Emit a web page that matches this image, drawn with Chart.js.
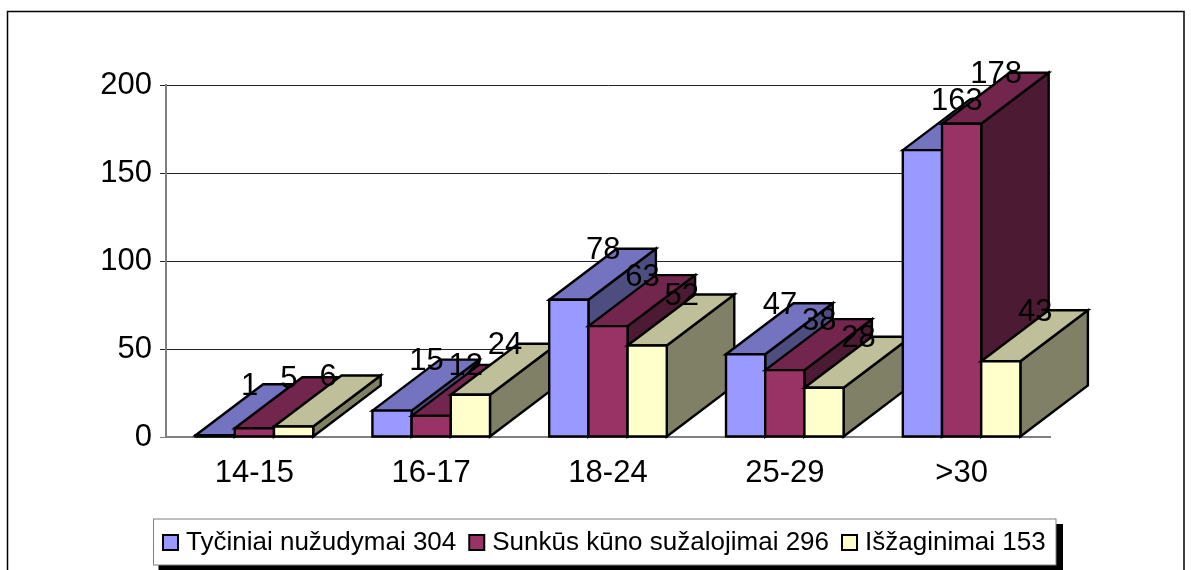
<!DOCTYPE html>
<html><head><meta charset="utf-8">
<style>html,body{margin:0;padding:0;background:#fff;overflow:hidden}canvas{display:block}</style>
<script src="https://cdn.jsdelivr.net/npm/chart.js@4"></script>
</head><body><canvas id="c" width="1191" height="570"></canvas>
<script>
const categories = ['14-15','16-17','18-24','25-29','>30'];
const tyciniai = [1,15,78,47,163];
const sunkus = [5,12,63,38,178];
const isz = [6,24,52,28,43];
const seriesNames = ['Tyčiniai nužudymai 304','Sunkūs kūno sužalojimai 296','Išžaginimai 153'];
const yTicks = [0,50,100,150,200];
const frontColors = ['#9999FF','#993366','#FFFFCC'];
const topColors = ['#7373BF','#73264D','#BFBF99'];
const sideColors = ['#4D4D80','#4D1A33','#808066'];
const FONT = '"Liberation Sans", Arial, sans-serif';
const FS = 31, LFS = 26, DX = 67.5, DY = -51;

function poly(ctx, pts, fill){
  ctx.beginPath();
  pts.forEach((p,i)=> i?ctx.lineTo(p[0],p[1]):ctx.moveTo(p[0],p[1]));
  ctx.closePath(); ctx.fillStyle = fill; ctx.fill(); ctx.stroke();
}
const chrome = {
  id:'chrome',
  afterLayout(chart){
    const l = chart.legend, p = l.options.labels.padding;
    const cur = (l.left + p + l.right - l.lineWidths[0]) / 2;
    const shift = 168 - cur;
    l.left += shift; l.right += shift;
    const h = l.bottom - l.top;
    l.top = 529.5 - p; l.bottom = l.top + h;
  },
  beforeDraw(chart){
    const ctx = chart.ctx; ctx.save();
    ctx.strokeStyle='#000'; ctx.lineWidth=1.5;
    ctx.strokeRect(7.5,11.5,1176.5,620);
    const x0=153.5, y0=519, x1=1056, y1=565;
    ctx.fillStyle='#000'; ctx.fillRect(x0+5,y0+5,x1-x0+2,y1-y0+2);
    ctx.fillStyle='#fff'; ctx.fillRect(x0,y0,x1-x0,y1-y0);
    ctx.strokeStyle='#808080'; ctx.lineWidth=1; ctx.strokeRect(x0,y0,x1-x0,y1-y0);
    ctx.restore();
  },
  afterDatasetsDraw(chart){
    const ctx = chart.ctx; ctx.save();
    ctx.strokeStyle='#000'; ctx.lineWidth=2.4; ctx.lineJoin='miter';
    const metas = chart.data.datasets.map((d,i)=>chart.getDatasetMeta(i));
    categories.forEach((c,ci)=>{
      metas.forEach((m,si)=>{
        const b=m.data[ci], l=b.x-b.width/2, r=b.x+b.width/2, t=b.y, bot=b.base;
        poly(ctx,[[r,bot],[r+DX,bot+DY],[r+DX,t+DY],[r,t]],sideColors[si]);
        poly(ctx,[[l,t],[l+DX,t+DY],[r+DX,t+DY],[r,t]],topColors[si]);
        poly(ctx,[[l,bot],[l,t],[r,t],[r,bot]],frontColors[si]);
      });
    });
    ctx.fillStyle='#000'; ctx.font=FS+'px '+FONT; ctx.textAlign='center'; ctx.textBaseline='middle';
    metas.forEach((m,si)=>{
      m.data.forEach((b,ci)=>{
        ctx.fillText(String(chart.data.datasets[si].data[ci]), b.x+34.5, b.y-49);
      });
    });
    ctx.restore();
  }
};
const mk=(i,d)=>({label:seriesNames[i],data:d,backgroundColor:frontColors[i],borderColor:'#000',borderWidth:2,categoryPercentage:0.665,barPercentage:1});
new Chart(document.getElementById('c'),{
  type:'bar',
  data:{labels:categories,datasets:[mk(0,tyciniai),mk(1,sunkus),mk(2,isz)]},
  plugins:[chrome],
  options:{
    responsive:false,animation:false,
    layout:{padding:{left:0,right:141,top:85,bottom:3}},
    plugins:{
      tooltip:{enabled:false},
      legend:{position:'bottom',labels:{usePointStyle:true,pointStyle:'rect',boxWidth:5,boxHeight:15,padding:18,color:'#000',font:{family:FONT,size:LFS}}}
    },
    scales:{
      x:{
        grid:{display:false},
        border:{color:'#808080',width:2},
        ticks:{color:'#000',padding:10,maxRotation:0,font:{family:FONT,size:FS}},
        afterFit(s){s.height=570-437-3-s.chart.legend.height;}
      },
      y:{
        min:0,max:200,
        afterFit(s){s.width=166;},
        afterBuildTicks(s){s.ticks=yTicks.map(v=>({value:v}));},
        border:{color:'#808080',width:2},
        grid:{color:c=>c.tick&&c.tick.value===0?'#808080':'#222',lineWidth:1,tickLength:6},
        ticks:{color:'#000',padding:8,font:{family:FONT,size:FS}}
      }
    }
  }
});
</script></body></html>
